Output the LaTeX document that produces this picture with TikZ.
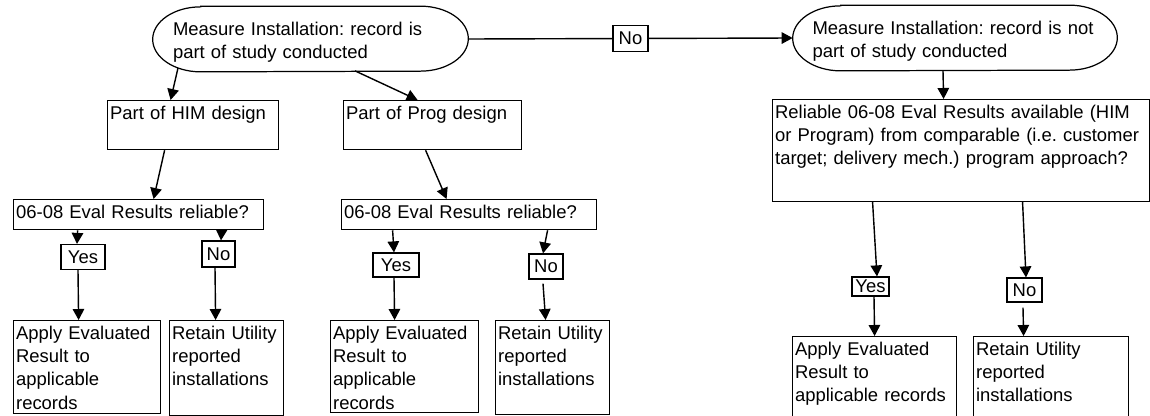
\documentclass[tikz,border=0pt]{standalone}
\usepackage{fontspec}
\setmainfont{Liberation Sans}
\usetikzlibrary{arrows.meta}

\newcommand{\flowfont}{\fontsize{10.5pt}{13.2pt}\selectfont\frenchspacing}
% outline with half-ellipse ends round a terminal node
\newcommand{\termline}[2]{%
  \draw[line width=0.7pt] ([xshift=0.96cm]#1.north west) -- ([xshift=-0.96cm]#1.north east)
    arc[start angle=90,end angle=-90,x radius=0.96cm,y radius=#2]
    -- ([xshift=0.96cm]#1.south west)
    arc[start angle=270,end angle=90,x radius=0.96cm,y radius=#2] -- cycle;}

\tikzset{
  box/.style 2 args={draw, line width=0.7pt, anchor=north west, align=left,
    inner xsep=0.05cm, inner ysep=2pt, text height=8.8pt,
    text width=#1, text depth=#2},
  term/.style={align=left, inner sep=0pt, minimum height=1.3cm, text height=11pt},
  lbl/.style={draw, line width=0.7pt, fill=white, inner sep=0pt},
  arr/.style={line width=0.8pt, -{Triangle[length=0.22cm,width=0.23cm]}},
}

\begin{document}
\begin{tikzpicture}[x=0.02cm, y=-0.02cm, font=\flowfont]
\useasboundingbox (0,0) rectangle (1150,416);

\node[term, text width=5.5cm, minimum width=6.3cm] (study) at (310.5,39) {Measure Installation: record is\\part of study conducted};
\termline{study}{0.65cm}
\node[term, text width=5.7cm, minimum width=6.48cm] (nostudy) at (955,38) {Measure Installation: record is not\\part of study conducted};
\termline{nostudy}{0.65cm}

\node[box={3.32cm}{15.1pt}] (him) at (107,100) {Part of HIM design};
\node[box={3.46cm}{15.1pt}] (prog) at (343,100) {Part of Prog design};
\node[box={7.44cm}{45.2pt}] (avail) at (772,99) {Reliable 06-08 Eval Results available (HIM\\or Program) from comparable (i.e. customer\\target; delivery mech.) program approach?};

\node[box={4.9cm}{4.3pt}] (rel1) at (13,199) {06-08 Eval Results reliable?};
\node[box={5.0cm}{4.3pt}] (rel2) at (341,199) {06-08 Eval Results reliable?};

\node[lbl, minimum width=0.88cm, minimum height=0.5cm] (yes1) at (83,257) {Yes};
\node[lbl, minimum width=0.66cm, minimum height=0.52cm] (no1) at (218.5,254) {No};
\node[lbl, minimum width=0.92cm, minimum height=0.48cm] (yes2) at (396,265) {Yes};
\node[lbl, minimum width=0.68cm, minimum height=0.5cm] (no2) at (546,266.5) {No};
\node[lbl, minimum width=0.74cm, minimum height=0.38cm] (yes3) at (870.5,286.5) {Yes};
\node[lbl, minimum width=0.7cm, minimum height=0.48cm] (no3) at (1024.5,290) {No};

\node[box={2.84cm}{40.1pt}] (apply1) at (13,320) {Apply Evaluated\\Result to\\applicable\\records};
\node[box={2.18cm}{41.3pt}] (keep1) at (169,320) {Retain Utility\\reported\\installations};
\node[box={2.86cm}{39.6pt}] (apply2) at (330,320) {Apply Evaluated\\Result to\\applicable\\records};
\node[box={2.18cm}{40.7pt}] (keep2) at (495,320) {Retain Utility\\reported\\installations};
\node[box={3.18cm}{44pt}] (apply3) at (792,336) {Apply Evaluated\\Result to\\applicable records};
\node[box={3.0cm}{44pt}] (keep3) at (973,336) {Retain Utility\\reported\\installations};

\draw[arr] ([shift={(-2.65cm,0.08cm)}]study.south) -- ([xshift=-0.45cm]him.north);
\draw[arr] ([shift={(0.89cm,0.02cm)}]study.south) -- ([xshift=-0.3cm]prog.north);
\draw[arr] (study.east) -- node[lbl, minimum width=0.7cm, minimum height=0.52cm] (nolbl) {No} (nostudy.west);
\draw[arr] ([xshift=-0.24cm]nostudy.south) -- ([xshift=-0.35cm]avail.north);

\draw[arr] ([xshift=-0.57cm]him.south) -- ([xshift=0.3cm]rel1.north);
\draw[arr] ([xshift=-0.14cm]prog.south) -- ([xshift=-0.45cm]rel2.north);
\draw[arr] ([xshift=-1.22cm]rel1.south) -- ([xshift=-0.12cm]yes1.north);
\draw[arr] ([xshift=1.66cm]rel1.south) -- ([xshift=0.05cm]no1.north);
\draw[arr] ([xshift=-1.53cm]rel2.south) -- ([xshift=-0.04cm]yes2.north);
\draw[arr] ([xshift=1.57cm]rel2.south) -- ([xshift=-0.06cm]no2.north);
\draw[arr] ([xshift=-1.77cm]avail.south) -- ([xshift=0.13cm]yes3.north);
\draw[arr] ([xshift=1.23cm]avail.south) -- ([xshift=0.03cm]no3.north);

\draw[arr] ([xshift=-0.1cm]yes1.south) -- ([xshift=-0.17cm]apply1.north);
\draw[arr] ([xshift=-0.07cm]no1.south) -- ([xshift=-0.22cm]keep1.north);
\draw[arr] ([xshift=-0.04cm]yes2.south) -- ([xshift=-0.2cm]apply2.north);
\draw[arr] ([shift={(-0.06cm,-0.08cm)}]no2.south) -- ([xshift=-0.14cm]keep2.north);
\draw[arr] ([xshift=0.07cm]yes3.south) -- (apply3.north);
\draw[arr] ([shift={(-0.03cm,-0.1cm)}]no3.south) -- ([xshift=-0.55cm]keep3.north);
\end{tikzpicture}
\end{document}
